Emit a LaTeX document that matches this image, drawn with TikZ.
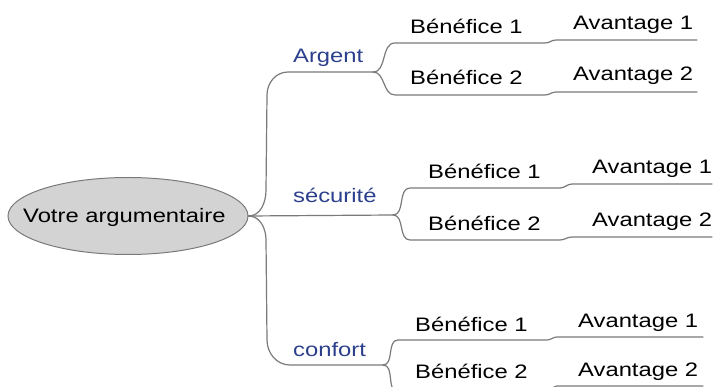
\documentclass[tikz,border=0pt]{standalone}
\usepackage{fontspec}
\newfontfamily\mapfont[FakeStretch=1.22]{Liberation Sans}
\definecolor{topicblue}{HTML}{2B3F8C}
\definecolor{linkgray}{HTML}{7A7A7A}
\definecolor{ovalgray}{HTML}{D3D3D3}
\tikzset{
  link/.style={draw=linkgray, line width=1.2pt, line cap=round},
  mainidea/.style={ellipse, draw=linkgray, fill=ovalgray, line width=1pt,
    minimum width=240pt, minimum height=77pt, inner sep=0pt},
  maintext/.style={inner sep=0pt, font=\mapfont\fontsize{19.5}{19.5}\selectfont},
  topic/.style={anchor=base west, inner sep=0pt, text=topicblue,
    font=\mapfont\fontsize{19.5}{19.5}\selectfont},
  benefit/.style={anchor=base west, inner sep=0pt,
    font=\mapfont\fontsize{19.5}{19.5}\selectfont},
}
\usetikzlibrary{shapes.geometric}
\begin{document}
\begin{tikzpicture}[x=1pt, y=-1pt]
\useasboundingbox (0,0) rectangle (715,387);
% ====================
% Central idea
\node[mainidea] (root) at (128,216) {};
\node[maintext, anchor=base west] (roottext) at (23,223) {Votre argumentaire};

% ====================
% Topic 1: Argent
\node[topic] (argent) at (293,63) {Argent};
\coordinate (argsplit) at (373,72);
\draw[link] (root.east) to[out=0, in=-90] (266,190) -- (267,95)
  to[out=90, in=180] (288,72) -- (argsplit);
% Benefits and advantages of topic 1
\node[benefit] (argb1) at (410,34) {Bénéfice 1};
\node[benefit] (arga1) at (573,30) {Avantage 1};
\node[benefit] (argb2) at (410,85) {Bénéfice 2};
\node[benefit] (arga2) at (573,81) {Avantage 2};
\draw[link] (argsplit) to[out=0, in=180] (395,43) -- (545,43)
  to[out=0, in=180] (556,40) -- (697,40);
\draw[link] (argsplit) to[out=0, in=180] (395,95) -- (545,95)
  to[out=0, in=180] (556,92) -- (697,92);

% ====================
% Topic 2: sécurité
\node[topic] (securite) at (293,203) {sécurité};
\coordinate (secsplit) at (393,215);
\draw[link] (root.east) -- (secsplit);
% Benefits and advantages of topic 2
\node[benefit] (secb1) at (428,179) {Bénéfice 1};
\node[benefit] (seca1) at (592,174) {Avantage 1};
\node[benefit] (secb2) at (428,231) {Bénéfice 2};
\node[benefit] (seca2) at (592,227) {Avantage 2};
\draw[link] (secsplit) to[out=0, in=180] (410,188) -- (560,188)
  to[out=0, in=180] (572,184) -- (712,184);
\draw[link] (secsplit) to[out=0, in=180] (410,240) -- (560,240)
  to[out=0, in=180] (572,237) -- (712,237);

% ====================
% Topic 3: confort
\node[topic] (confort) at (293,356) {confort};
\coordinate (consplit) at (383,365);
\draw[link] (root.east) to[out=0, in=90] (266,240) -- (267,340)
  to[out=-90, in=180] (290,365) -- (consplit);
% Benefits and advantages of topic 3
\node[benefit] (conb1) at (415,331) {Bénéfice 1};
\node[benefit] (cona1) at (578,327) {Avantage 1};
\node[benefit] (conb2) at (415,378) {Bénéfice 2};
\node[benefit] (cona2) at (578,376) {Avantage 2};
\draw[link] (consplit) to[out=0, in=180] (398,340) -- (547,340)
  to[out=0, in=180] (557,337) -- (703,337);
\draw[link] (consplit) to[out=0, in=180] (398,392) -- (547,392)
  to[out=0, in=180] (557,386) -- (703,386);
\end{tikzpicture}
\end{document}
